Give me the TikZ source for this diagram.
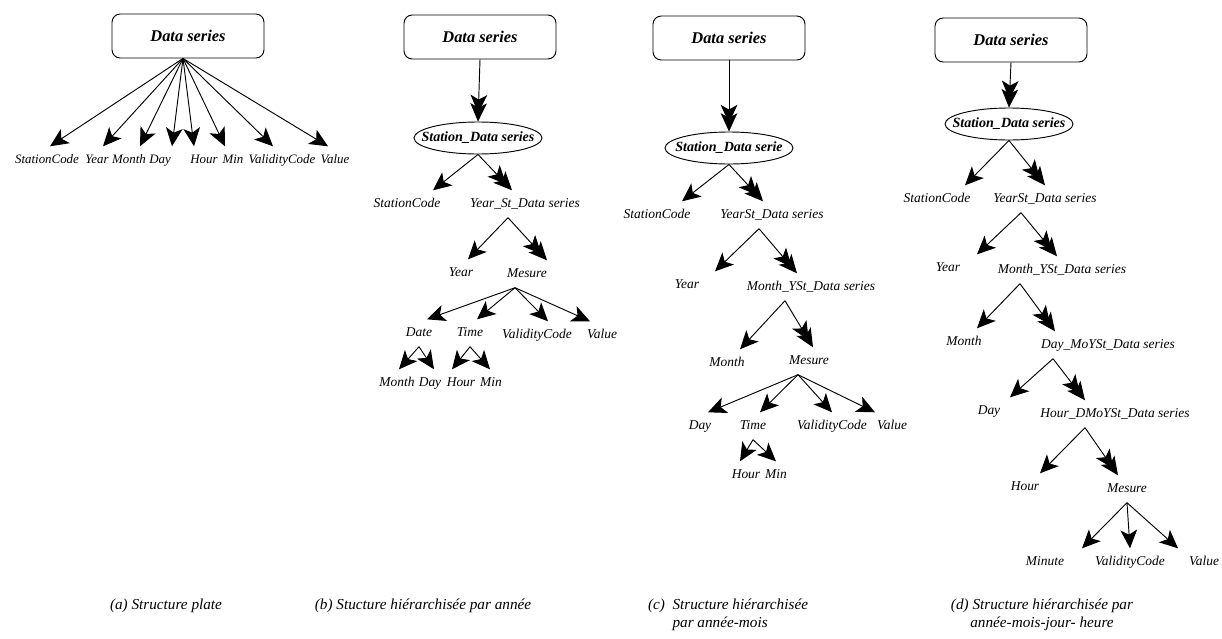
\documentclass[tikz,border=0pt]{standalone}
\usepackage{fontspec}
\setmainfont{Liberation Serif}
\usetikzlibrary{arrows.meta,shapes.geometric}
\tikzset{>={Stealth[length=5.5mm,width=5mm,inset=1.4mm]}}

\begin{document}
\begin{tikzpicture}[x=0.03cm,y=-0.03cm,
  lbl/.style={font=\fontsize{11.5}{14}\selectfont\itshape,inner xsep=1pt,inner ysep=6pt,text height=8.5pt,text depth=2.5pt},
  flat/.style={lbl,font=\fontsize{11}{13}\selectfont\itshape},
  root/.style={draw,line width=0.8pt,rounded corners=7pt,minimum width=4.56cm,minimum height=1.32cm,font=\fontsize{14}{16}\selectfont\bfseries\itshape},
  stn/.style={draw,line width=0.8pt,ellipse,inner xsep=-4mm,inner ysep=0pt,minimum width=3.84cm,minimum height=0.96cm,font=\fontsize{12}{14}\selectfont\bfseries\itshape},
  sgl/.style={->,line width=0.8pt},
  dbl/.style={-{Stealth[length=5.5mm,width=5mm,inset=1.4mm,sep=-3mm]Stealth[length=5.5mm,width=5mm,inset=1.4mm]},line width=0.8pt},
  capt/.style={font=\fontsize{13}{15.3}\selectfont\itshape}
  ]
  \useasboundingbox (0,0) rectangle (1222,639);

  % (a) flat structure
  \node[root] (ra) at (188,36) {Data series};
  \node[flat] (a1) at (47,160) {StationCode};
  \node[flat] (a2) at (97,160) {Year};
  \node[flat] (a3) at (129,160) {Month};
  \node[flat] (a4) at (160,160) {Day};
  \node[flat] (a5) at (204,160) {Hour};
  \node[flat] (a6) at (233,160) {Min};
  \node[flat] (a7) at (282,160) {ValidityCode};
  \node[flat] (a8) at (335,160) {Value};
  \foreach \n/\dx in {a1/0.09,a2/0.18,a3/0.33,a4/0.36,a5/-0.3,a6/-0.24,a7/-0.27,a8/-0.21}
    \draw[sgl] ([xshift=-0.15cm]ra.south) -- ([xshift=\dx cm]\n.north);

  % (b) by year
  \node[root] (rb) at (480,37) {Data series};
  \node[stn] (sb) at (478,138) {Station\_Data series};
  \node[lbl] (bsc) at (407,204) {StationCode};
  \node[lbl] (bys) at (525,204) {Year\_St\_Data series};
  \node[lbl] (byr) at (461,273) {Year};
  \node[lbl] (bms) at (527,274) {Mesure};
  \node[lbl] (bdt) at (419,333) {Date};
  \node[lbl] (btm) at (470,333) {Time};
  \node[lbl] (bvc) at (537,335) {ValidityCode};
  \node[lbl] (bvl) at (602,335) {Value};
  \node[lbl] (bmo) at (397,383) {Month};
  \node[lbl] (bdy) at (430,383) {Day};
  \node[lbl] (bhr) at (461,383) {Hour};
  \node[lbl] (bmi) at (491,383) {Min};
  \draw[dbl] (rb.south) -- (sb.north);
  \draw[sgl] (sb.south) -- ([xshift=0.78cm]bsc.north);
  \draw[dbl] (sb.south) -- ([xshift=-0.39cm]bys.north);
  \draw[sgl] ([xshift=-0.51cm]bys.south) -- ([xshift=0.21cm]byr.north);
  \draw[dbl] ([xshift=-0.51cm]bys.south) -- ([xshift=0.6cm]bms.north);
  \foreach \n/\dx in {bdt/0.24,btm/0.21,bvc/0.33,bvl/-0.36}
    \draw[sgl] ([xshift=-0.36cm]bms.south) -- ([xshift=\dx cm]\n.north);
  \draw[sgl] (bdt.south) -- ([xshift=0.06cm]bmo.north);
  \draw[sgl] (bdt.south) -- ([xshift=0.12cm]bdy.north);
  \draw[sgl] (btm.south) -- ([xshift=-0.27cm]bhr.north);
  \draw[sgl] (btm.south) -- ([xshift=-0.03cm]bmi.north);

  % (c) by year-month
  \node[root] (rc) at (729,38) {Data series};
  \node[stn] (sc) at (729,148) {Station\_Data serie};
  \node[lbl] (csc) at (657,215) {StationCode};
  \node[lbl] (cys) at (772,215) {YearSt\_Data series};
  \node[lbl] (cyr) at (687,285) {Year};
  \node[lbl] (cmy) at (811,287) {Month\_YSt\_Data series};
  \node[lbl] (cmo) at (727,363) {Month};
  \node[lbl] (cms) at (809,361) {Mesure};
  \node[lbl] (cdy) at (700,426) {Day};
  \node[lbl] (ctm) at (753,426) {Time};
  \node[lbl] (cvc) at (832,426) {ValidityCode};
  \node[lbl] (cvl) at (892,426) {Value};
  \node[lbl] (chr) at (746,475) {Hour};
  \node[lbl] (cmi) at (776,475) {Min};
  \draw[dbl] (rc.south) -- (sc.north);
  \draw[sgl] (sc.south) -- ([xshift=0.75cm]csc.north);
  \draw[dbl] (sc.south) -- ([xshift=-0.27cm]cys.north);
  \draw[sgl] ([xshift=-0.39cm]cys.south) -- ([xshift=0.84cm]cyr.north);
  \draw[dbl] ([xshift=-0.39cm]cys.south) -- ([xshift=-0.42cm]cmy.north);
  \draw[sgl] ([xshift=-0.78cm]cmy.south) -- ([xshift=0.39cm]cmo.north);
  \draw[dbl] ([xshift=-0.78cm]cmy.south) -- ([xshift=0.12cm]cms.north);
  \foreach \n/\dx in {cdy/0.24,ctm/0.21,cvc/0,cvl/-0.51}
    \draw[sgl] ([xshift=-0.33cm]cms.south) -- ([xshift=\dx cm]\n.north);
  \draw[sgl] (ctm.south) -- ([xshift=-0.18cm]chr.north);
  \draw[sgl] (ctm.south) -- (cmi.north);

  % (d) by year-month-day-hour
  \node[root] (rd) at (1011,40) {Data series};
  \node[stn] (sd) at (1009,124) {Station\_Data series};
  \node[lbl] (dsc) at (937,199) {StationCode};
  \node[lbl] (dys) at (1045,199) {YearSt\_Data series};
  \node[lbl] (dyr) at (948,268) {Year};
  \node[lbl] (dmy) at (1062,270) {Month\_YSt\_Data series};
  \node[lbl] (dmo) at (964,342) {Month};
  \node[lbl] (ddm) at (1108,345) {Day\_MoYSt\_Data series};
  \node[lbl] (ddy) at (989,411) {Day};
  \node[lbl] (dhd) at (1115,414) {Hour\_DMoYSt\_Data series};
  \node[lbl] (dhr) at (1025,487) {Hour};
  \node[lbl] (dms) at (1127,489) {Mesure};
  \node[lbl] (dmn) at (1045,562) {Minute};
  \node[lbl] (dvc) at (1130,562) {ValidityCode};
  \node[lbl] (dvl) at (1204,562) {Value};
  \draw[dbl] (rd.south) -- (sd.north);
  \draw[sgl] (sd.south) -- ([xshift=0.84cm]dsc.north);
  \draw[dbl] (sd.south) -- (dys.north);
  \draw[sgl] ([xshift=-0.72cm]dys.south) -- ([xshift=0.87cm]dyr.north);
  \draw[dbl] ([xshift=-0.72cm]dys.south) -- ([xshift=-0.15cm]dmy.north);
  \draw[sgl] ([xshift=-1.26cm]dmy.south) -- ([xshift=0.39cm]dmo.north);
  \draw[dbl] ([xshift=-1.26cm]dmy.south) -- ([xshift=-1.59cm]ddm.north);
  \draw[sgl] ([xshift=-1.65cm]ddm.south) -- ([xshift=0.63cm]ddy.north);
  \draw[dbl] ([xshift=-1.65cm]ddm.south) -- ([xshift=-0.9cm]dhd.north);
  \draw[sgl] ([xshift=-0.9cm]dhd.south) -- ([xshift=0.45cm]dhr.north);
  \draw[dbl] ([xshift=-0.9cm]dhd.south) -- ([xshift=-0.27cm]dms.north);
  \foreach \n/\dx in {dmn/1.11,dvc/0,dvl/-0.78}
    \draw[sgl] (dms.south) -- ([xshift=\dx cm]\n.north);

  % captions
  \node[capt] (ca) at (166,606) {(a) Structure plate};
  \node[capt] (cb) at (423,606) {(b) Stucture hiérarchisée par année};
  \node[capt,align=left] (cc) at (728,615) {(c)\ \ Structure hiérarchisée\\\phantom{(c)\ \ }par année-mois};
  \node[capt,align=center] (cd) at (1042,615) {(d) Structure hiérarchisée par\\année-mois-jour- heure};
\end{tikzpicture}
\end{document}
